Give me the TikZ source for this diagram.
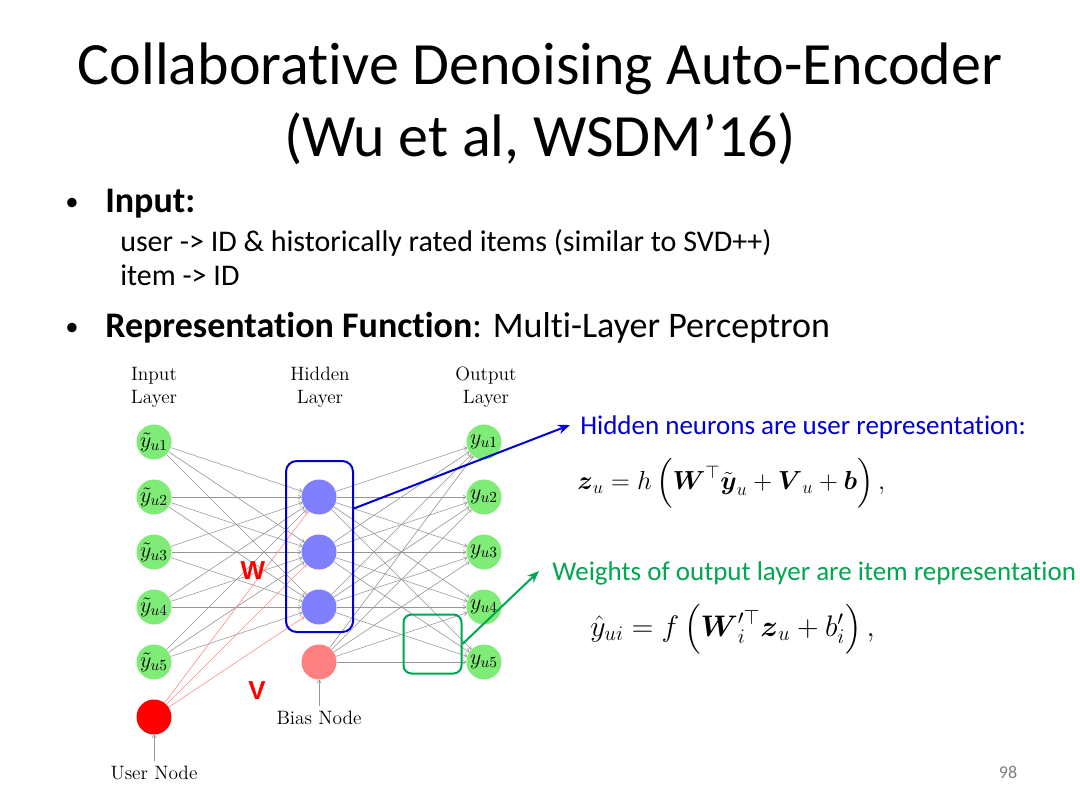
\RequirePackage{fix-cm}
\documentclass[tikz,border=0pt]{standalone}
\usepackage{fontspec}
\usepackage{amsmath}
\usetikzlibrary{shapes, arrows.meta, positioning, calc}
\newfontfamily\slidefont[Ligatures={NoCommon}]{Carlito}
\newfontfamily\arialfont{Liberation Sans}
\definecolor{ingreen}{RGB}{128,236,120}
\definecolor{hidblue}{RGB}{128,128,255}
\definecolor{biasred}{RGB}{255,128,128}
\definecolor{boxblue}{RGB}{0,0,210}
\definecolor{boxgreen}{RGB}{0,166,80}
\definecolor{edgegray}{RGB}{150,150,150}
\tikzset{
  neuron/.style={circle, minimum size=26.25pt, inner sep=0pt, font=\fontsize{16.5}{19}\selectfont},
  innode/.style={neuron, fill=ingreen},
  hidnode/.style={neuron, fill=hidblue},
  lbl/.style={align=center, font=\fontsize{14.5}{17.25}\selectfont},
  wedge/.style={draw=edgegray, line width=0.45pt, -{To[length=2.5pt,width=3.5pt]}},
  vedge/.style={wedge, draw=red!45},
  callout/.style={line width=1.5pt, -{Stealth[length=9pt,width=7pt]}},
  slidetext/.style={anchor=base west, inner sep=0pt},
}
\begin{document}
\begin{tikzpicture}[x=0.75pt,y=0.75pt,yscale=-1,xscale=1]
\useasboundingbox (0,0) rectangle (1080,810);
\fill[white] (0,0) rectangle (1080,810);

% Text Node
\node (title1) [anchor=base, inner sep=0pt, font=\slidefont\fontsize{45}{54}\selectfont] at (540,84) {Collaborative Denoising Auto-Encoder};
% Text Node
\node (title2) [anchor=base, inner sep=0pt, font=\slidefont\fontsize{45}{54}\selectfont] at (540,156) {(Wu et al, WSDM’16)};
% Text Node
\node (dot1) [anchor=base, inner sep=0pt, font=\slidefont\fontsize{20}{24}\selectfont] at (72,210) {•};
\node (input) [slidetext, font=\slidefont\fontsize{27}{32}\selectfont] at (105,212) {\bfseries Input:};
\node (userline) [slidetext, font=\slidefont\fontsize{22.5}{27}\selectfont] at (120,251) {user -> ID \& historically rated items (similar to SVD++)};
\node (itemline) [slidetext, font=\slidefont\fontsize{22.5}{27}\selectfont] at (120,285) {item -> ID};
% Text Node
\node (dot2) [anchor=base, inner sep=0pt, font=\slidefont\fontsize{20}{24}\selectfont] at (72,335) {•};
\node (repr) [slidetext, font=\slidefont\fontsize{27}{32}\selectfont] at (105,337) {\textbf{Representation Function}: Multi-Layer Perceptron};

%Shape: Circle
\foreach \i/\y in {1/442,2/497,3/552,4/607,5/662} {
  \node (in\i) [innode] at (154,\y) {$\tilde{y}_{u\i}$};
  \node (out\i) [innode] at (484,\y) {$y_{u\i}$};
}
\foreach \j/\y in {1/497,2/552,3/607}
  \node (hid\j) [hidnode] at (319,\y) {};
\node (bias) [neuron, fill=biasred] at (319,662) {};
\node (user) [neuron, fill=red] at (154,717) {};

% Text Node
\node (inlbl) [lbl] at (154,387) {Input\\Layer};
\node (hidlbl) [lbl] at (320,387) {Hidden\\Layer};
\node (outlbl) [lbl] at (486,387) {Output\\Layer};
\node (biaslbl) [lbl] at (319,718) {Bias Node};
\node (userlbl) [lbl] at (154,773) {User Node};

%Straight Lines
\foreach \i in {1,...,5}
  \foreach \j in {1,2,3}
    \draw[wedge] (in\i) -- (hid\j);
\foreach \j in {1,2,3}
  \draw[vedge] (user) -- (hid\j);
\foreach \h in {hid1,hid2,hid3,bias}
  \foreach \i in {1,...,5}
    \draw[wedge] (\h) -- (out\i);
\draw[wedge] (biaslbl) -- (bias);
\draw[wedge] (userlbl) -- (user);

%Shape: Rectangle
\node (hidbox) [draw=boxblue, line width=1.5pt, rounded corners=8pt, minimum width=50.25pt, minimum height=128.25pt] at (319.5,546.5) {};
\node (grbox) [draw=boxgreen, line width=1.5pt, rounded corners=6pt, minimum width=43.5pt, minimum height=44.25pt] at (432.5,644) {};

% Text Node
\node (wlbl) [text=red, font=\arialfont\bfseries\fontsize{19.5}{22}\selectfont] at (253,571) {W};
\node (vlbl) [text=red, font=\arialfont\bfseries\fontsize{19.5}{22}\selectfont] at (257,691) {V};

% Text Node
\node (hidtxt) [slidetext, text=boxblue, font=\slidefont\fontsize{20.25}{24}\selectfont] at (580,434) {Hidden neurons are user representation:};
\coordinate (hidtip) at (570,425);
\draw[callout, boxblue] ($(hidbox.north east)!0.28!(hidbox.south east)$) -- (hidtip);
\node (zeq) [anchor=west, inner sep=0pt, font=\fontsize{19.6}{23}\selectfont] at (577,483) {$\boldsymbol{z}_u = h\,\Bigl(\boldsymbol{W}^{\top}\tilde{\boldsymbol{y}}_u + \boldsymbol{V}_u + \boldsymbol{b}\Bigr)\,,$};

% Text Node
\node (grtxt) [slidetext, text=boxgreen, font=\slidefont\fontsize{20.25}{24}\selectfont] at (552,580) {Weights of output layer are item representation};
\coordinate (grtip) at (539,571);
\draw[callout, boxgreen] (grbox.east) -- (grtip);
\node (yeq) [anchor=west, inner sep=0pt, font=\fontsize{22.3}{26}\selectfont] at (590,629) {$\hat{y}_{ui} = f\,\Bigl(\boldsymbol{W}_i^{\prime\top}\boldsymbol{z}_u + b_i'\Bigr)\,,$};

% Text Node
\node (pgnum) [text=gray, font=\slidefont\fontsize{13.5}{16}\selectfont] at (1008,772) {98};
\end{tikzpicture}
\end{document}
